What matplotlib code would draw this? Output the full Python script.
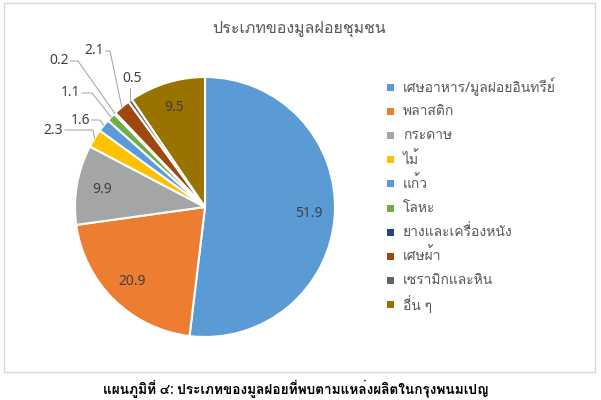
import matplotlib

matplotlib.use("Agg")
import matplotlib.pyplot as plt
import numpy as np
from matplotlib.patches import Rectangle

plt.rcParams["font.family"] = ["Noto Sans", "Loma", "DejaVu Sans"]

TITLE = "ประเภทของมูลฝอยชุมชน"
CAPTION = "แผนภูมิที่ ๔: ประเภทของมูลฝอยที่พบตามแหล่งผลิตในกรุงพนมเปญ"
CATEGORIES = [
    "เศษอาหาร/มูลฝอยอินทรีย์",
    "พลาสติก",
    "กระดาษ",
    "ไม้",
    "แก้ว",
    "โลหะ",
    "ยางและเครื่องหนัง",
    "เศษผ้า",
    "เซรามิกและหิน",
    "อื่น ๆ",
]
VALUES = [51.9, 20.9, 9.9, 2.3, 1.6, 1.1, 0.2, 2.1, 0.5, 9.5]
COLORS = ["#5B9BD5", "#ED7D31", "#A5A5A5", "#FFC000", "#5B9BD5",
          "#70AD47", "#264478", "#9E480E", "#636363", "#997300"]

W, H = 601, 400
fig = plt.figure(figsize=(W / 100, H / 100), dpi=100)

# chart frame (pixel coords -> figure fraction)
def fx(px):
    return px / W

def fy(py):
    return 1 - py / H

fig.patches.append(Rectangle((fx(4), fy(372)), fx(595) - fx(4), fy(3) - fy(372),
                             transform=fig.transFigure, fill=False,
                             edgecolor="#D9D9D9", linewidth=1.0))

cx, cy, r = 205, 207, 130
ax = fig.add_axes([fx(cx - r), fy(cy + r), 2 * r / W, 2 * r / H])

wedges, _ = ax.pie(VALUES, colors=COLORS, startangle=90, counterclock=False,
                   radius=1, wedgeprops=dict(edgecolor="white", linewidth=1.5))
ax.set_xlim(-1, 1)
ax.set_ylim(-1, 1)
ax.axis("off")

lab_color = "#404040"
lead_color = "#A6A6A6"
# outside labels for the thin slices: (text right edge x, y, elbow x) in pixels
outside = {
    3: (63, 130, 93),
    4: (90, 120, 100),
    5: (80, 93, 92),
    6: (69, 61, 78),
    7: (104, 51, 110),
}

for i, (w, v) in enumerate(zip(wedges, VALUES)):
    ang = np.deg2rad((w.theta1 + w.theta2) / 2)
    ex, ey = np.cos(ang), np.sin(ang)
    if v >= 5:
        d = 0.8
        ax.text(d * ex, d * ey, f"{v}", ha="center", va="center",
                fontsize=10, color=lab_color)
    elif i in outside:
        tx, ty, elx = outside[i]
        tx, ty, elx = (tx - cx) / r, (cy - ty) / r, (elx - cx) / r
        ax.plot([tx + 0.015, elx, ex], [ty, ty, ey], color=lead_color,
                linewidth=0.75, clip_on=False)
        ax.text(tx, ty, f"{v}", ha="right", va="center", fontsize=10,
                color=lab_color, clip_on=False)
    else:
        tx, ty = (132 - cx) / r, (cy - 79) / r
        ax.plot([ex, ex], [ey, (cy - 88) / r], color=lead_color,
                linewidth=0.75, clip_on=False)
        ax.text(tx, ty, f"{v}", ha="center", va="center", fontsize=10,
                color=lab_color, clip_on=False)

fig.text(fx(299), fy(29), TITLE, ha="center", va="center", fontsize=11.5,
         color="#595959")

# legend
for k, (name, col) in enumerate(zip(CATEGORIES, COLORS)):
    y = 87 + k * 24.2
    fig.patches.append(Rectangle((fx(387), fy(y + 3.5)), 7 / W, 7 / H,
                                 transform=fig.transFigure, facecolor=col,
                                 edgecolor="none"))
    fig.text(fx(403), fy(y), name, ha="left", va="center", fontsize=10,
             color="#595959")

fig.text(fx(296), fy(389), CAPTION, ha="center", va="center", fontsize=9.8,
         fontweight="bold", color="black")

fig.savefig("out.png", dpi=100)
